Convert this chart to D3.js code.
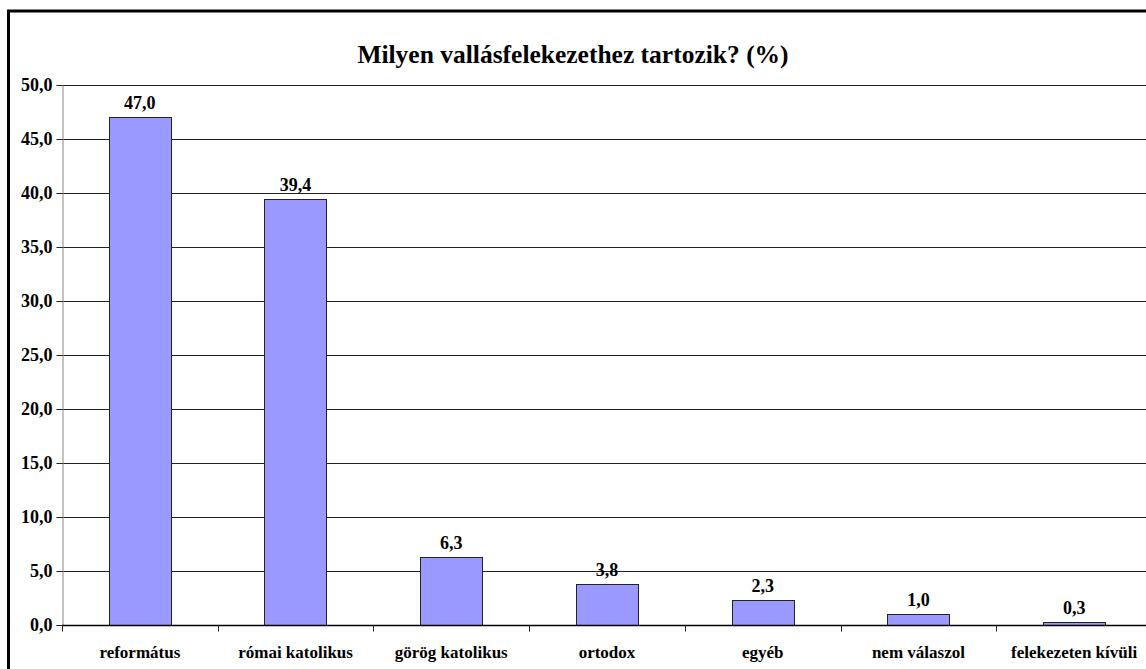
<!DOCTYPE html>
<html>
<head>
<meta charset="utf-8">
<script src="https://cdn.jsdelivr.net/npm/d3@7"></script>
<style>
  body { margin: 0; background: #fff; }
  svg { display: block; }
  text { font-family: "Liberation Serif", "Times New Roman", serif; font-weight: bold; }
</style>
</head>
<body>
<svg id="chart"></svg>
<script>
var categories = ["református", "római katolikus", "görög katolikus", "ortodox", "egyéb", "nem válaszol", "felekezeten kívüli"];
var values = [47.0, 39.4, 6.3, 3.8, 2.3, 1.0, 0.3];
var yTicks = [0, 5, 10, 15, 20, 25, 30, 35, 40, 45, 50];
var title = "Milyen vallásfelekezethez tartozik? (%)";

var width = 1146, height = 669;
var plotLeft = 62, plotRight = 1152, plotTop = 85, plotBottom = 625;

var svg = d3.select("#chart")
    .attr("width", width)
    .attr("height", height);

// outer frame, runs off the right and bottom edge
svg.append("rect")
    .attr("x", 8.5)
    .attr("y", 11)
    .attr("width", 1200)
    .attr("height", 700)
    .style("fill", "none")
    .style("stroke", "black")
    .style("stroke-width", 3);

var x = d3.scaleBand()
    .domain(categories)
    .range([plotLeft, plotRight])
    .paddingInner(0.6)
    .paddingOuter(0.3);

var xBand = d3.scaleBand()
    .domain(categories)
    .range([plotLeft, plotRight]);

var y = d3.scaleLinear()
    .domain([0, 50])
    .range([plotBottom, plotTop]);

var fmt = function(d) { return d3.format(".1f")(d).replace(".", ","); };

// gridlines
svg.append("g")
    .selectAll("line")
    .data(yTicks.filter(function(d) { return d > 0; }))
    .enter().append("line")
    .attr("x1", plotLeft)
    .attr("x2", width)
    .attr("y1", function(d) { return Math.round(y(d)) + 0.5; })
    .attr("y2", function(d) { return Math.round(y(d)) + 0.5; })
    .style("stroke", "#222")
    .style("stroke-width", 1);

// y axis
var yAxis = svg.append("g")
    .attr("transform", "translate(" + (plotLeft + 0.5) + ",0)")
    .call(d3.axisLeft(y).tickValues(yTicks).tickSize(6).tickPadding(4).tickFormat(fmt));
yAxis.select(".domain").style("stroke", "#888");
yAxis.selectAll(".tick line").style("stroke", "#222");
yAxis.selectAll("text")
    .style("font-family", "'Liberation Serif', serif")
    .style("font-weight", "bold")
    .style("font-size", "18px")
    .style("fill", "black");

// bars
svg.append("g")
    .selectAll("rect")
    .data(values)
    .enter().append("rect")
    .attr("x", function(d, i) { return Math.round(x(categories[i])) + 0.5; })
    .attr("y", function(d) { return Math.round(y(d)) + 0.5; })
    .attr("width", Math.round(x.bandwidth()))
    .attr("height", function(d) { return Math.round(y(0)) - Math.round(y(d)); })
    .style("fill", "#9999FF")
    .style("stroke", "#222")
    .style("stroke-width", 1);

// value labels
svg.append("g")
    .selectAll("text")
    .data(values)
    .enter().append("text")
    .attr("x", function(d, i) { return x(categories[i]) + x.bandwidth() / 2; })
    .attr("y", function(d) { return y(d) - 8; })
    .attr("text-anchor", "middle")
    .style("font-size", "18px")
    .text(fmt);

// x axis
var xAxis = svg.append("g")
    .attr("transform", "translate(0," + (plotBottom + 0.5) + ")");
xAxis.append("line")
    .attr("x1", plotLeft)
    .attr("x2", width)
    .style("stroke", "black")
    .style("stroke-width", 1.5);
xAxis.selectAll(".cat-tick")
    .data(categories.slice(1))
    .enter().append("line")
    .attr("class", "cat-tick")
    .attr("x1", function(d) { return Math.round(xBand(d)) + 0.5; })
    .attr("x2", function(d) { return Math.round(xBand(d)) + 0.5; })
    .attr("y1", 0)
    .attr("y2", 6)
    .style("stroke", "#222");
xAxis.append("line")
    .attr("x1", plotLeft + 0.5).attr("x2", plotLeft + 0.5)
    .attr("y1", 0).attr("y2", 6)
    .style("stroke", "#222");
xAxis.selectAll(".cat-label")
    .data(categories)
    .enter().append("text")
    .attr("class", "cat-label")
    .attr("x", function(d) { return xBand(d) + xBand.bandwidth() / 2; })
    .attr("y", 32)
    .attr("text-anchor", "middle")
    .style("font-size", "17px")
    .text(function(d) { return d; });

// title
svg.append("text")
    .attr("x", 573)
    .attr("y", 63)
    .attr("text-anchor", "middle")
    .style("font-size", "25.5px")
    .text(title);
</script>
</body>
</html>
